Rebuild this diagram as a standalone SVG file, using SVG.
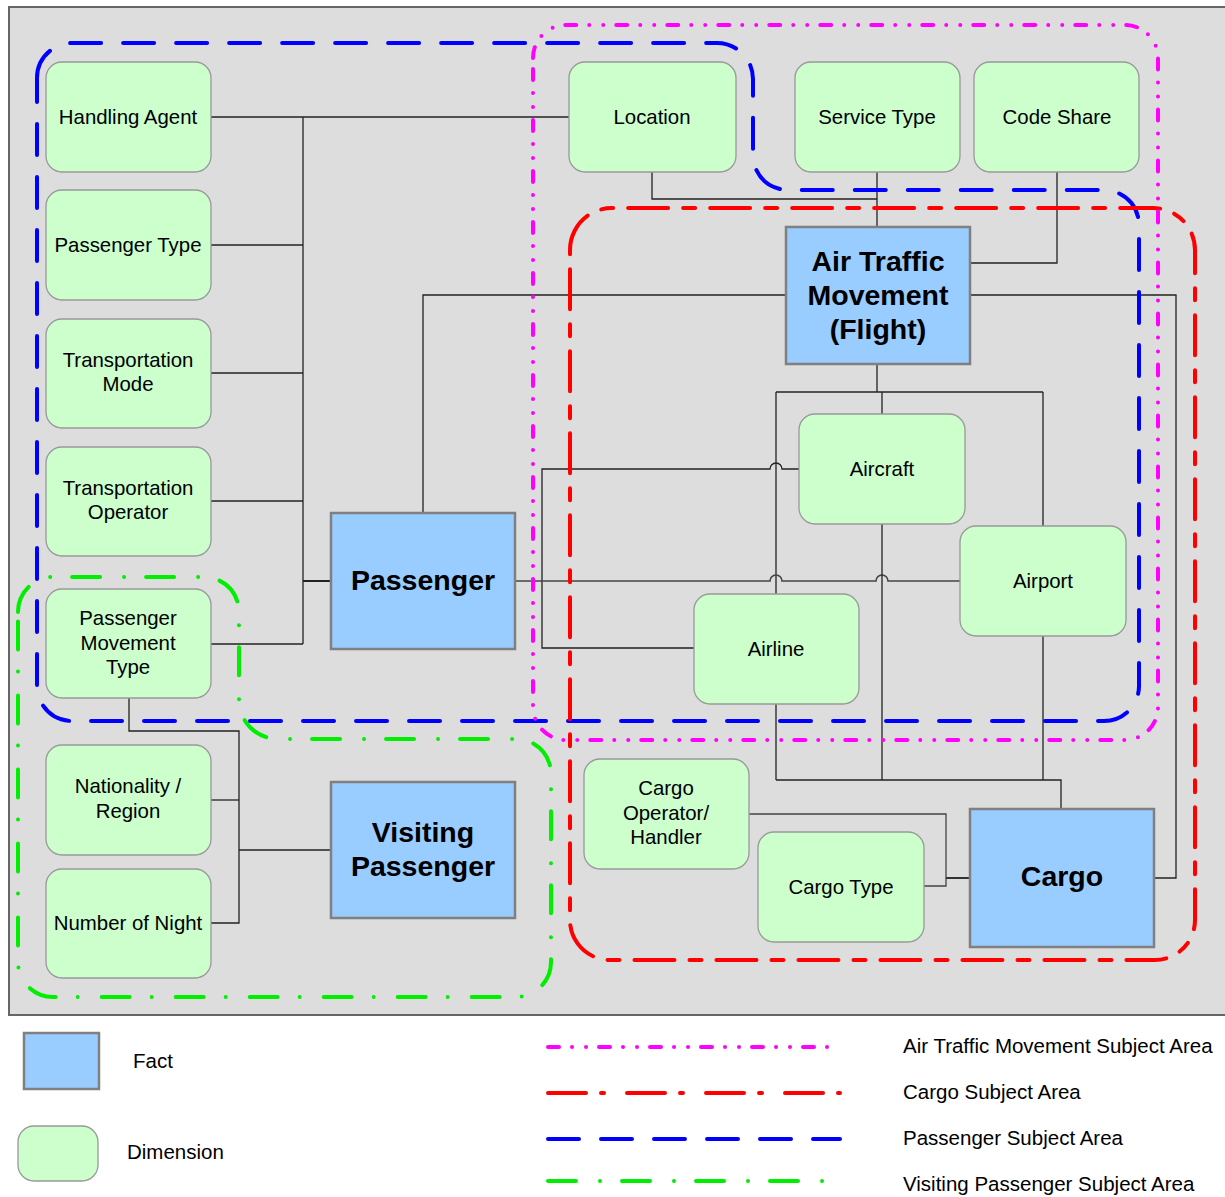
<svg xmlns="http://www.w3.org/2000/svg" width="1225" height="1197" viewBox="0 0 1225 1197">
<style>
text{font-family:"Liberation Sans",Arial,sans-serif;fill:#000;text-anchor:middle}
.dim rect{fill:#ccffcc;stroke:#999;stroke-width:1.3}
.dim text{font-size:20.4px}
.fact rect{fill:#99ccff;stroke:#808080;stroke-width:2.5}
.fact text{font-size:28.5px;font-weight:bold}
.conn path{fill:none;stroke:#222;stroke-width:1.3}
.area{fill:none;stroke-width:4;stroke-linecap:round;stroke-linejoin:round}
.atm{stroke:#ff00ff;stroke-dasharray:11 13 0 14 0 13}
.cargo{stroke:#ff0000;stroke-dasharray:40 15 12 15}
.pax{stroke:#0000ff;stroke-dasharray:31 22}
.vis{stroke:#00ee00;stroke-dasharray:28 24 0 22}
.leg{font-size:20.5px;text-anchor:start}
</style>
<rect x="0" y="0" width="1225" height="1197" fill="#fff"/>
<rect x="9" y="7" width="1230" height="1008" fill="#dddddd" stroke="#666" stroke-width="2"/>

<g id="connectors" class="conn">
<path d="M211 117 H569"/>
<path d="M303 117 V644"/>
<path d="M211 245 H303"/>
<path d="M211 373 H303"/>
<path d="M211 501 H303"/>
<path d="M211 644 H303"/>
<path d="M303 581 H331" style="stroke-width:2"/>
<path d="M423 513 V295 H786"/>
<path d="M652 172 V199 H877"/>
<path d="M877 172 V227"/>
<path d="M1057 172 V263 H970"/>
<path d="M970 295 H1176 V878 H1154"/>
<path d="M877 364 V392"/>
<path d="M776 392 H1043"/>
<path d="M882 392 V414"/>
<path d="M776 392 V594"/>
<path d="M1043 392 V526"/>
<path d="M799 469 H782 A6 6 0 0 0 770 469 H542 V648 H694"/>
<path d="M515 581 H770 A6 6 0 0 1 782 581 H876 A6 6 0 0 1 888 581 H960" style="stroke:#444;stroke-width:1.6"/>
<path d="M882 524 V780"/>
<path d="M776 704 V780"/>
<path d="M1043 636 V780"/>
<path d="M776 780 H1061 V809"/>
<path d="M749 814 H946 V886 H924" style="stroke:#444"/>
<path d="M946 878 H970" style="stroke:#333;stroke-width:2"/>
<path d="M129 698 V731 H239 V923 H211"/>
<path d="M211 800 H239"/>
<path d="M239 850 H331"/>
</g>

<g id="subject-areas">
<path class="area vis" d="M18 612 A35 35 0 0 1 53 577 L204 577 A35 35 0 0 1 239 612 L239 700 A39 39 0 0 0 278 739 L516 739 A35 35 0 0 1 551 774 L551 962 A35 35 0 0 1 516 997 L53 997 A35 35 0 0 1 18 962 Z"/>
<path class="area pax" d="M37 78 A35 35 0 0 1 72 43 L717 43 A36 36 0 0 1 753 79 L753 155 A35 35 0 0 0 788 190 L1104 190 A35 35 0 0 1 1139 225 L1139 686 A35 35 0 0 1 1104 721 L72 721 A35 35 0 0 1 37 686 Z"/>
<path class="area cargo" d="M570 250 A42 42 0 0 1 612 208 L1153 208 A42 42 0 0 1 1195 250 L1195 920 A40 40 0 0 1 1155 960 L610 960 A40 40 0 0 1 570 920 Z"/>
<path class="area atm" d="M533 58 A33 33 0 0 1 566 25 L1125 25 A33 33 0 0 1 1158 58 L1158 707 A33 33 0 0 1 1125 740 L566 740 A33 33 0 0 1 533 707 Z"/>
</g>

<g id="handling-agent" class="dim"><rect x="46" y="62" width="165" height="110" rx="16"/><text x="128" y="124">Handling Agent</text></g>
<g id="passenger-type" class="dim"><rect x="46" y="190" width="165" height="110" rx="16"/><text x="128" y="252">Passenger Type</text></g>
<g id="transportation-mode" class="dim"><rect x="46" y="319" width="165" height="109" rx="16"/><text x="128" y="367">Transportation</text><text x="128" y="391">Mode</text></g>
<g id="transportation-operator" class="dim"><rect x="46" y="447" width="165" height="109" rx="16"/><text x="128" y="495">Transportation</text><text x="128" y="519">Operator</text></g>
<g id="passenger-movement-type" class="dim"><rect x="46" y="589" width="165" height="109" rx="16"/><text x="128" y="625">Passenger</text><text x="128" y="650">Movement</text><text x="128" y="674">Type</text></g>
<g id="nationality-region" class="dim"><rect x="46" y="745" width="165" height="110" rx="16"/><text x="128" y="793">Nationality /</text><text x="128" y="818">Region</text></g>
<g id="number-of-night" class="dim"><rect x="46" y="869" width="165" height="109" rx="16"/><text x="128" y="930">Number of Night</text></g>
<g id="location" class="dim"><rect x="569" y="62" width="167" height="110" rx="16"/><text x="652" y="124">Location</text></g>
<g id="service-type" class="dim"><rect x="795" y="62" width="165" height="110" rx="16"/><text x="877" y="124">Service Type</text></g>
<g id="code-share" class="dim"><rect x="974" y="62" width="165" height="110" rx="16"/><text x="1057" y="124">Code Share</text></g>
<g id="aircraft" class="dim"><rect x="799" y="414" width="166" height="110" rx="16"/><text x="882" y="476">Aircraft</text></g>
<g id="airport" class="dim"><rect x="960" y="526" width="166" height="110" rx="16"/><text x="1043" y="588">Airport</text></g>
<g id="airline" class="dim"><rect x="694" y="594" width="165" height="110" rx="16"/><text x="776" y="656">Airline</text></g>
<g id="cargo-operator" class="dim"><rect x="584" y="759" width="165" height="110" rx="16"/><text x="666" y="795">Cargo</text><text x="666" y="820">Operator/</text><text x="666" y="844">Handler</text></g>
<g id="cargo-type" class="dim"><rect x="758" y="832" width="166" height="110" rx="16"/><text x="841" y="894">Cargo Type</text></g>

<g id="air-traffic-movement" class="fact"><rect x="786" y="227" width="184" height="137"/><text x="878" y="271">Air Traffic</text><text x="878" y="305">Movement</text><text x="878" y="339">(Flight)</text></g>
<g id="passenger" class="fact"><rect x="331" y="513" width="184" height="136"/><text x="423" y="590">Passenger</text></g>
<g id="visiting-passenger" class="fact"><rect x="331" y="782" width="184" height="136"/><text x="423" y="842">Visiting</text><text x="423" y="876">Passenger</text></g>
<g id="cargo" class="fact"><rect x="970" y="809" width="184" height="138"/><text x="1062" y="886">Cargo</text></g>

<g id="legend">
<rect x="24" y="1033" width="75" height="56" fill="#99ccff" stroke="#808080" stroke-width="2.5"/>
<text class="leg" x="133" y="1068">Fact</text>
<rect x="18" y="1126" width="80" height="55" rx="16" fill="#ccffcc" stroke="#999" stroke-width="1.3"/>
<text class="leg" x="127" y="1159">Dimension</text>
<path class="area atm" d="M548 1047 H840"/>
<path class="area cargo" d="M548 1093 H840" style="stroke-dasharray:38 15 3 23"/>
<path class="area pax" d="M548 1139 H840"/>
<path class="area vis" d="M548 1181 H830"/>
<text class="leg" x="903" y="1053">Air Traffic Movement Subject Area</text>
<text class="leg" x="903" y="1099">Cargo Subject Area</text>
<text class="leg" x="903" y="1145">Passenger Subject Area</text>
<text class="leg" x="903" y="1191">Visiting Passenger Subject Area</text>
</g>
</svg>
